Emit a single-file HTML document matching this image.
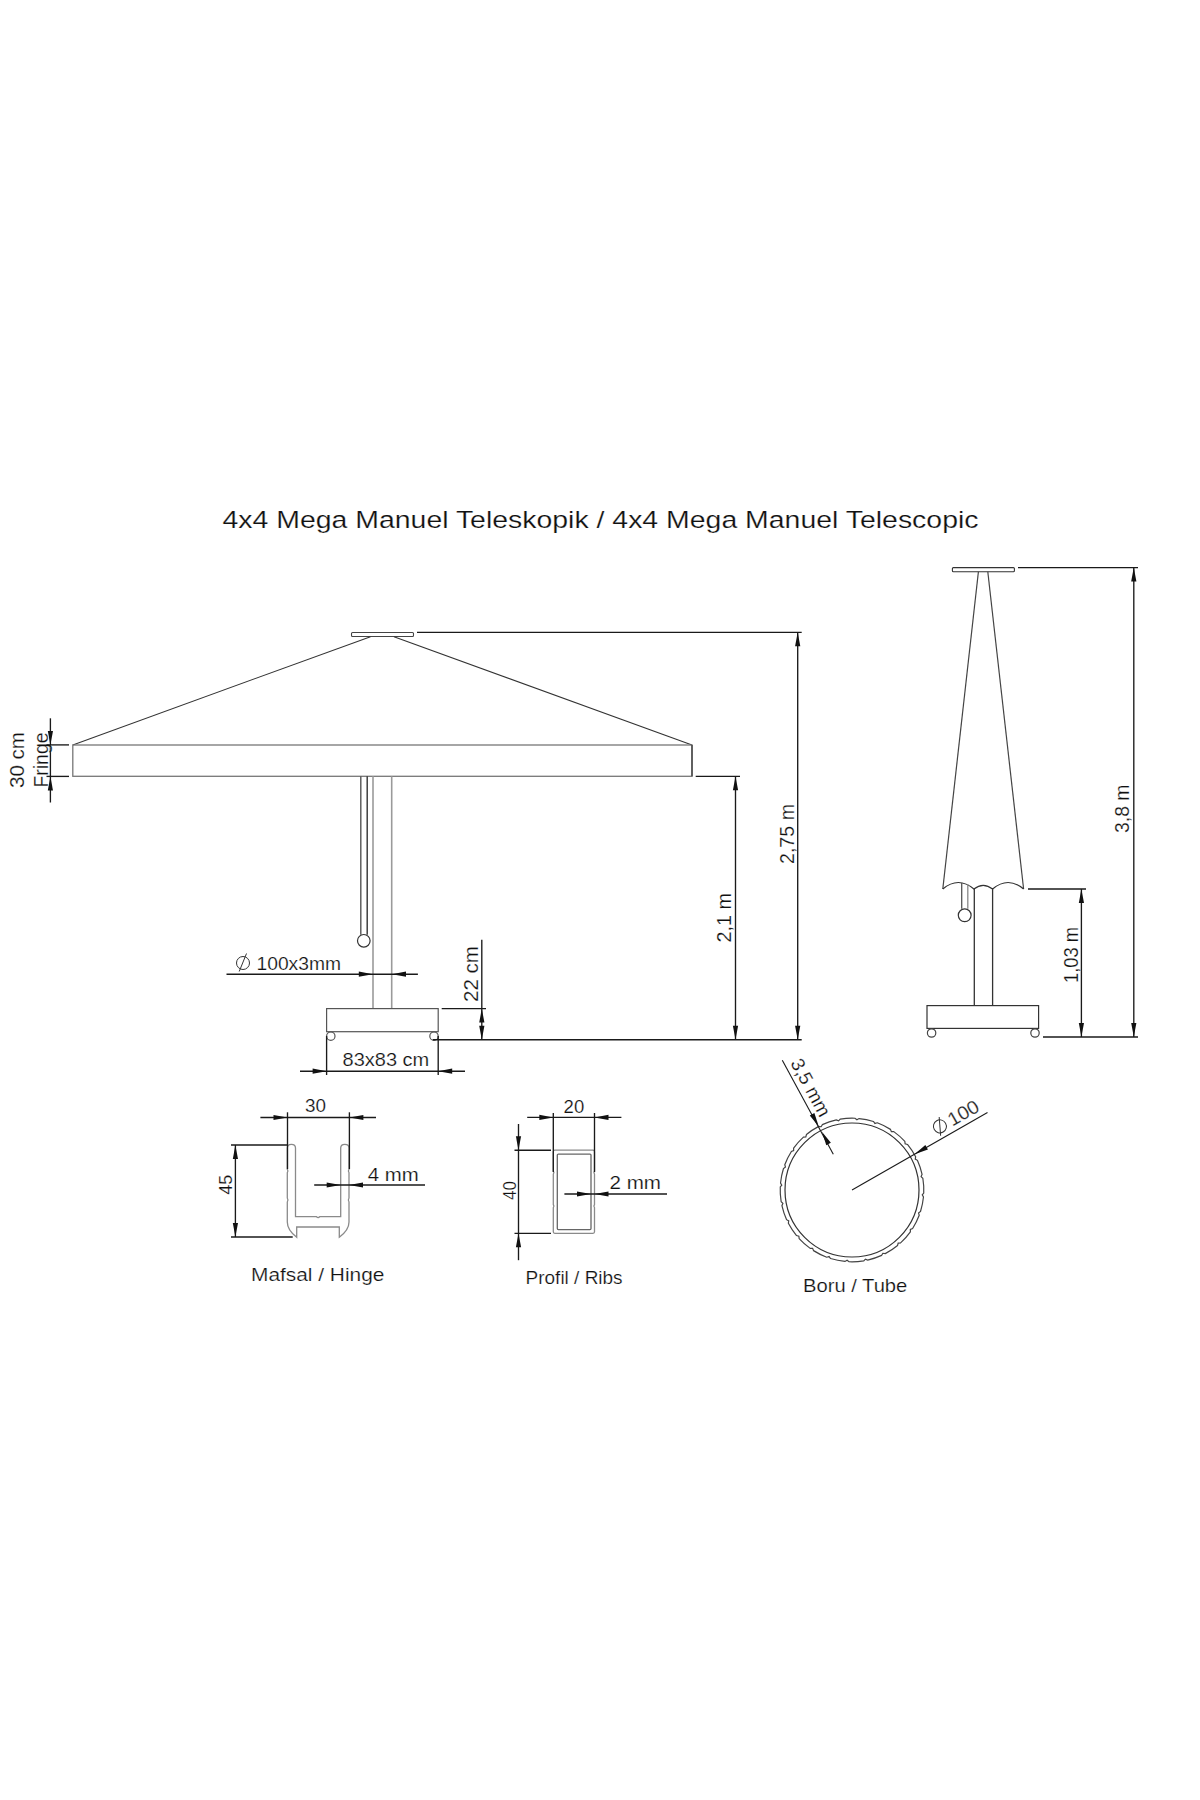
<!DOCTYPE html>
<html><head><meta charset="utf-8"><style>
html,body{margin:0;padding:0;background:#fff;width:1200px;height:1800px;overflow:hidden}
svg{display:block}
text{font-family:"Liberation Sans",sans-serif;stroke:#fff;stroke-width:0.2px}
</style></head><body>
<svg width="1200" height="1800" viewBox="0 0 1200 1800">
<rect width="1200" height="1800" fill="#fff"/>
<text x="222.5" y="527.8" font-size="24.5" text-anchor="start" textLength="756" lengthAdjust="spacingAndGlyphs" fill="#111">4x4 Mega Manuel Teleskopik / 4x4 Mega Manuel Telescopic</text>
<rect x="351.5" y="632.5" width="62.00" height="4.00" rx="1" fill="none" stroke="#444" stroke-width="1.1"/>
<line x1="370.5" y1="636.7" x2="72.8" y2="744.9" stroke="#333" stroke-width="1.05"/>
<line x1="394" y1="636.7" x2="692" y2="745" stroke="#333" stroke-width="1.05"/>
<rect x="72.8" y="745" width="619.20" height="31.30" rx="0" fill="none" stroke="#777" stroke-width="1.3"/>
<line x1="692" y1="745" x2="692" y2="776.3" stroke="#444" stroke-width="1.4"/>
<line x1="373" y1="776.3" x2="373" y2="1008.6" stroke="#9a9a9a" stroke-width="1.6"/>
<line x1="391.7" y1="776.3" x2="391.7" y2="1008.6" stroke="#9a9a9a" stroke-width="1.6"/>
<line x1="360.8" y1="776.3" x2="360.8" y2="934.7" stroke="#555" stroke-width="1.4"/>
<line x1="367.2" y1="776.3" x2="367.2" y2="934.7" stroke="#333" stroke-width="1.4"/>
<circle cx="363.8" cy="940.8" r="6.3" fill="none" stroke="#333" stroke-width="1.2"/>
<rect x="326.6" y="1008.6" width="111.60" height="23.10" rx="0" fill="none" stroke="#555" stroke-width="1.2"/>
<circle cx="330.8" cy="1036.2" r="4.2" fill="none" stroke="#555" stroke-width="1.2"/>
<circle cx="434" cy="1036.2" r="4.2" fill="none" stroke="#555" stroke-width="1.2"/>
<line x1="50.4" y1="718.3" x2="50.4" y2="802.5" stroke="#1a1a1a" stroke-width="1.35"/>
<line x1="46.5" y1="744.9" x2="69" y2="744.9" stroke="#1a1a1a" stroke-width="1.35"/>
<line x1="46.5" y1="776.4" x2="69" y2="776.4" stroke="#1a1a1a" stroke-width="1.35"/>
<polygon points="50.40,744.90 47.80,730.90 53.00,730.90" fill="#111"/>
<polygon points="50.40,776.40 53.00,790.40 47.80,790.40" fill="#111"/>
<text x="24" y="760" font-size="19.5" text-anchor="middle" textLength="56" lengthAdjust="spacingAndGlyphs" transform="rotate(-90 24 760)" fill="#111">30 cm</text>
<text x="48" y="760" font-size="19.5" text-anchor="middle" textLength="55" lengthAdjust="spacingAndGlyphs" transform="rotate(-90 48 760)" fill="#111">Fringe</text>
<line x1="417" y1="632.3" x2="801.7" y2="632.3" stroke="#1a1a1a" stroke-width="1.35"/>
<line x1="797.7" y1="632.3" x2="797.7" y2="1039.7" stroke="#1a1a1a" stroke-width="1.35"/>
<polygon points="797.70,632.30 800.30,646.30 795.10,646.30" fill="#111"/>
<polygon points="797.70,1039.70 795.10,1025.70 800.30,1025.70" fill="#111"/>
<text x="793.5" y="834" font-size="19.5" text-anchor="middle" textLength="60" lengthAdjust="spacingAndGlyphs" transform="rotate(-90 793.5 834)" fill="#111">2,75 m</text>
<line x1="695.7" y1="776.3" x2="740" y2="776.3" stroke="#1a1a1a" stroke-width="1.35"/>
<line x1="735.5" y1="776.3" x2="735.5" y2="1039.7" stroke="#1a1a1a" stroke-width="1.35"/>
<polygon points="735.50,776.30 738.10,790.30 732.90,790.30" fill="#111"/>
<polygon points="735.50,1039.70 732.90,1025.70 738.10,1025.70" fill="#111"/>
<text x="731.5" y="917.7" font-size="19.5" text-anchor="middle" textLength="49.5" lengthAdjust="spacingAndGlyphs" transform="rotate(-90 731.5 917.7)" fill="#111">2,1 m</text>
<line x1="432.8" y1="1039.7" x2="801.7" y2="1039.7" stroke="#1a1a1a" stroke-width="1.35"/>
<line x1="481.8" y1="939.8" x2="481.8" y2="1039.7" stroke="#1a1a1a" stroke-width="1.35"/>
<line x1="441.7" y1="1008.6" x2="486" y2="1008.6" stroke="#1a1a1a" stroke-width="1.35"/>
<polygon points="481.80,1008.60 484.40,1022.60 479.20,1022.60" fill="#111"/>
<polygon points="481.80,1039.70 479.20,1025.70 484.40,1025.70" fill="#111"/>
<text x="478" y="974" font-size="19.5" text-anchor="middle" textLength="56" lengthAdjust="spacingAndGlyphs" transform="rotate(-90 478 974)" fill="#111">22 cm</text>
<line x1="226.5" y1="974.2" x2="417.9" y2="974.2" stroke="#1a1a1a" stroke-width="1.35"/>
<polygon points="372.80,974.20 358.80,976.80 358.80,971.60" fill="#111"/>
<polygon points="392.00,974.20 406.00,971.60 406.00,976.80" fill="#111"/>
<circle cx="243" cy="963" r="6.5" fill="none" stroke="#333" stroke-width="1.0"/>
<line x1="239.2" y1="971.5" x2="246.5" y2="953.5" stroke="#333" stroke-width="1.0"/>
<text x="256.5" y="969.5" font-size="19" text-anchor="start" textLength="84.5" lengthAdjust="spacingAndGlyphs" fill="#111">100x3mm</text>
<line x1="300" y1="1071.2" x2="465" y2="1071.2" stroke="#1a1a1a" stroke-width="1.35"/>
<line x1="326.6" y1="1036" x2="326.6" y2="1075" stroke="#1a1a1a" stroke-width="1.35"/>
<line x1="438.2" y1="1036" x2="438.2" y2="1075" stroke="#1a1a1a" stroke-width="1.35"/>
<polygon points="326.60,1071.20 312.60,1073.80 312.60,1068.60" fill="#111"/>
<polygon points="438.20,1071.20 452.20,1068.60 452.20,1073.80" fill="#111"/>
<text x="342.5" y="1066" font-size="19" text-anchor="start" textLength="86.8" lengthAdjust="spacingAndGlyphs" fill="#111">83x83 cm</text>
<rect x="952.4" y="567.6" width="62.00" height="4.10" rx="1" fill="none" stroke="#333" stroke-width="1.1"/>
<line x1="978.4" y1="571.7" x2="942.8" y2="889" stroke="#444" stroke-width="1.2"/>
<line x1="987.8" y1="571.7" x2="1023.6" y2="889" stroke="#444" stroke-width="1.2"/>
<path d="M942.8,889 Q958.3,876 973.9,889 Q983.2,881.6 992.6,889 Q1008.1,876 1023.6,889" fill="none" stroke="#333" stroke-width="1.2"/>
<line x1="974.3" y1="889" x2="974.3" y2="1005.6" stroke="#333" stroke-width="1.3"/>
<line x1="992.6" y1="889" x2="992.6" y2="1005.6" stroke="#333" stroke-width="1.3"/>
<line x1="961.7" y1="883" x2="961.7" y2="908.8" stroke="#555" stroke-width="1.3"/>
<line x1="967.8" y1="884" x2="967.8" y2="908.8" stroke="#888" stroke-width="1.3"/>
<circle cx="964.7" cy="915.3" r="6.4" fill="none" stroke="#333" stroke-width="1.2"/>
<rect x="927" y="1005.6" width="111.60" height="22.80" rx="0" fill="none" stroke="#333" stroke-width="1.2"/>
<circle cx="931.6" cy="1033" r="4.2" fill="none" stroke="#444" stroke-width="1.2"/>
<circle cx="1035" cy="1033" r="4.2" fill="none" stroke="#444" stroke-width="1.2"/>
<line x1="1018" y1="567.6" x2="1138" y2="567.6" stroke="#1a1a1a" stroke-width="1.35"/>
<line x1="1133.8" y1="567.6" x2="1133.8" y2="1037" stroke="#1a1a1a" stroke-width="1.35"/>
<polygon points="1133.80,567.60 1136.40,581.60 1131.20,581.60" fill="#111"/>
<polygon points="1133.80,1037.00 1131.20,1023.00 1136.40,1023.00" fill="#111"/>
<text x="1129" y="808.75" font-size="19.5" text-anchor="middle" textLength="48.5" lengthAdjust="spacingAndGlyphs" transform="rotate(-90 1129 808.75)" fill="#111">3,8 m</text>
<line x1="1028" y1="889" x2="1086" y2="889" stroke="#1a1a1a" stroke-width="1.35"/>
<line x1="1081.4" y1="889" x2="1081.4" y2="1037" stroke="#1a1a1a" stroke-width="1.35"/>
<polygon points="1081.40,889.00 1084.00,903.00 1078.80,903.00" fill="#111"/>
<polygon points="1081.40,1037.00 1078.80,1023.00 1084.00,1023.00" fill="#111"/>
<text x="1077.5" y="955" font-size="19.5" text-anchor="middle" textLength="56" lengthAdjust="spacingAndGlyphs" transform="rotate(-90 1077.5 955)" fill="#111">1,03 m</text>
<line x1="1043" y1="1037" x2="1138" y2="1037" stroke="#1a1a1a" stroke-width="1.35"/>
<path d="M287.3,1222 L287.3,1202 Q288.6,1200 287.3,1198 L287.3,1172.7 Q288.6,1171 287.3,1169.3 L287.3,1148 Q287.3,1144.3 291.4,1144.3 Q295.5,1144.3 295.5,1148 L295.5,1216.7 L316.5,1216.7 Q318.1,1218.2 319.7,1216.7 L340.7,1216.7 L340.7,1148 Q340.7,1144.3 344.85,1144.3 Q349,1144.3 349,1148 L349,1169.3 Q347.7,1171 349,1172.7 L349,1198 Q347.7,1200 349,1202 L349,1222 Q349,1230 339.3,1237.3 L339.3,1227 L296.7,1227 L296.7,1237.3 Q287.3,1230 287.3,1222 Z" fill="none" stroke="#8a8a8a" stroke-width="1.3"/>
<line x1="260.4" y1="1117.5" x2="376" y2="1117.5" stroke="#1a1a1a" stroke-width="1.35"/>
<line x1="287.5" y1="1112.3" x2="287.5" y2="1169" stroke="#1a1a1a" stroke-width="1.35"/>
<line x1="349.4" y1="1112.3" x2="349.4" y2="1169" stroke="#1a1a1a" stroke-width="1.35"/>
<polygon points="287.50,1117.50 273.50,1120.10 273.50,1114.90" fill="#111"/>
<polygon points="349.40,1117.50 363.40,1114.90 363.40,1120.10" fill="#111"/>
<text x="315.5" y="1112.3" font-size="19" text-anchor="middle" textLength="21" lengthAdjust="spacingAndGlyphs" fill="#111">30</text>
<line x1="235.4" y1="1145" x2="235.4" y2="1237" stroke="#1a1a1a" stroke-width="1.35"/>
<line x1="231" y1="1145" x2="287" y2="1145" stroke="#1a1a1a" stroke-width="1.35"/>
<line x1="231" y1="1237" x2="292.7" y2="1237" stroke="#1a1a1a" stroke-width="1.35"/>
<polygon points="235.40,1145.00 238.00,1159.00 232.80,1159.00" fill="#111"/>
<polygon points="235.40,1237.00 232.80,1223.00 238.00,1223.00" fill="#111"/>
<text x="232" y="1184.7" font-size="19" text-anchor="middle" textLength="20" lengthAdjust="spacingAndGlyphs" transform="rotate(-90 232 1184.7)" fill="#111">45</text>
<line x1="314.2" y1="1185" x2="425" y2="1185" stroke="#1a1a1a" stroke-width="1.35"/>
<polygon points="340.70,1185.00 326.70,1187.60 326.70,1182.40" fill="#111"/>
<polygon points="349.00,1185.00 363.00,1182.40 363.00,1187.60" fill="#111"/>
<text x="367.7" y="1180.6" font-size="19" text-anchor="start" textLength="51" lengthAdjust="spacingAndGlyphs" fill="#111">4 mm</text>
<text x="251" y="1281" font-size="18.5" text-anchor="start" textLength="133.4" lengthAdjust="spacingAndGlyphs" fill="#111">Mafsal / Hinge</text>
<path d="M554.8,1150.2 L593,1150.2 Q594.5,1150.2 594.5,1151.7 L594.5,1171 Q593.3,1172.6 594.5,1174.2 L594.5,1204.5 Q593.3,1206.1 594.5,1207.7 L594.5,1231.8 Q594.5,1233.3 593,1233.3 L554.8,1233.3 Q553.3,1233.3 553.3,1231.8 L553.3,1207.7 Q554.5,1206.1 553.3,1204.5 L553.3,1174.2 Q554.5,1172.6 553.3,1171 L553.3,1151.7 Q553.3,1150.2 554.8,1150.2 Z" fill="none" stroke="#8a8a8a" stroke-width="1.3"/>
<rect x="557.3" y="1154.1" width="33.70" height="75.50" rx="1" fill="none" stroke="#666" stroke-width="1.3"/>
<line x1="527.2" y1="1117.4" x2="621.4" y2="1117.4" stroke="#1a1a1a" stroke-width="1.35"/>
<line x1="553.3" y1="1113" x2="553.3" y2="1172" stroke="#1a1a1a" stroke-width="1.35"/>
<line x1="594.5" y1="1113" x2="594.5" y2="1172" stroke="#1a1a1a" stroke-width="1.35"/>
<polygon points="553.30,1117.40 539.30,1120.00 539.30,1114.80" fill="#111"/>
<polygon points="594.50,1117.40 608.50,1114.80 608.50,1120.00" fill="#111"/>
<text x="573.9" y="1113" font-size="19" text-anchor="middle" textLength="20.6" lengthAdjust="spacingAndGlyphs" fill="#111">20</text>
<line x1="518.5" y1="1124" x2="518.5" y2="1260.2" stroke="#1a1a1a" stroke-width="1.35"/>
<line x1="514.5" y1="1150.2" x2="551" y2="1150.2" stroke="#1a1a1a" stroke-width="1.35"/>
<line x1="514.5" y1="1233.3" x2="551" y2="1233.3" stroke="#1a1a1a" stroke-width="1.35"/>
<polygon points="518.50,1150.20 515.90,1136.20 521.10,1136.20" fill="#111"/>
<polygon points="518.50,1233.30 521.10,1247.30 515.90,1247.30" fill="#111"/>
<text x="515.5" y="1190.5" font-size="19" text-anchor="middle" textLength="19" lengthAdjust="spacingAndGlyphs" transform="rotate(-90 515.5 1190.5)" fill="#111">40</text>
<line x1="564.4" y1="1194" x2="667" y2="1194" stroke="#1a1a1a" stroke-width="1.35"/>
<polygon points="591.00,1194.00 577.00,1196.60 577.00,1191.40" fill="#111"/>
<polygon points="594.50,1194.00 608.50,1191.40 608.50,1196.60" fill="#111"/>
<text x="609.5" y="1189.4" font-size="19" text-anchor="start" textLength="51.5" lengthAdjust="spacingAndGlyphs" fill="#111">2 mm</text>
<text x="525.6" y="1284.3" font-size="18.5" text-anchor="start" textLength="97" lengthAdjust="spacingAndGlyphs" fill="#111">Profil / Ribs</text>
<path d="M923.46,1197.01 A71.8,71.8 0 0 1 920.51,1211.47 L918.56,1212.92 L919.21,1215.26 A71.8,71.8 0 0 1 912.62,1228.47 L910.36,1229.37 L910.38,1231.80 A71.8,71.8 0 0 1 900.60,1242.85 L898.19,1243.13 L897.57,1245.48 A71.8,71.8 0 0 1 885.26,1253.63 L882.86,1253.28 L881.66,1255.39 A71.8,71.8 0 0 1 867.66,1260.07 L865.43,1259.11 L863.73,1260.84 A71.8,71.8 0 0 1 848.99,1261.74 L847.09,1260.23 L844.99,1261.46 A71.8,71.8 0 0 1 830.53,1258.51 L829.08,1256.56 L826.74,1257.21 A71.8,71.8 0 0 1 813.53,1250.62 L812.63,1248.36 L810.20,1248.38 A71.8,71.8 0 0 1 799.15,1238.60 L798.87,1236.19 L796.52,1235.57 A71.8,71.8 0 0 1 788.37,1223.26 L788.72,1220.86 L786.61,1219.66 A71.8,71.8 0 0 1 781.93,1205.66 L782.89,1203.43 L781.16,1201.73 A71.8,71.8 0 0 1 780.26,1186.99 L781.77,1185.09 L780.54,1182.99 A71.8,71.8 0 0 1 783.49,1168.53 L785.44,1167.08 L784.79,1164.74 A71.8,71.8 0 0 1 791.38,1151.53 L793.64,1150.63 L793.62,1148.20 A71.8,71.8 0 0 1 803.40,1137.15 L805.81,1136.87 L806.43,1134.52 A71.8,71.8 0 0 1 818.74,1126.37 L821.14,1126.72 L822.34,1124.61 A71.8,71.8 0 0 1 836.34,1119.93 L838.57,1120.89 L840.27,1119.16 A71.8,71.8 0 0 1 855.01,1118.26 L856.91,1119.77 L859.01,1118.54 A71.8,71.8 0 0 1 873.47,1121.49 L874.92,1123.44 L877.26,1122.79 A71.8,71.8 0 0 1 890.47,1129.38 L891.37,1131.64 L893.80,1131.62 A71.8,71.8 0 0 1 904.85,1141.40 L905.13,1143.81 L907.48,1144.43 A71.8,71.8 0 0 1 915.63,1156.74 L915.28,1159.14 L917.39,1160.34 A71.8,71.8 0 0 1 922.07,1174.34 L921.11,1176.57 L922.84,1178.27 A71.8,71.8 0 0 1 923.74,1193.01 L922.23,1194.91 L923.46,1197.01 Z" fill="none" stroke="#444" stroke-width="1.2"/>
<circle cx="852" cy="1190" r="67" fill="none" stroke="#333" stroke-width="1.2"/>
<line x1="852" y1="1190" x2="987.5" y2="1112.5" stroke="#1a1a1a" stroke-width="1.1"/>
<polygon points="914.50,1154.25 925.36,1145.05 927.94,1149.56" fill="#111"/>
<line x1="782.3" y1="1060.2" x2="833.3" y2="1154.2" stroke="#1a1a1a" stroke-width="1.1"/>
<polygon points="818.75,1126.50 809.79,1115.43 814.36,1112.95" fill="#111"/>
<polygon points="821.90,1131.70 830.86,1142.77 826.29,1145.25" fill="#111"/>
<g transform="translate(937.5,1135.25) rotate(-29.77)"><circle cx="6.5" cy="-6.5" r="6.5" fill="none" stroke="#333" stroke-width="1"/><line x1="2.5" y1="2" x2="10.5" y2="-15" stroke="#333" stroke-width="1"/><text x="17" y="0" font-size="19" textLength="33" lengthAdjust="spacingAndGlyphs" fill="#222">100</text></g>
<text x="790" y="1063" font-size="19" text-anchor="start" textLength="63" lengthAdjust="spacingAndGlyphs" transform="rotate(61.517814252959575 790 1063)" fill="#111">3,5 mm</text>
<text x="803" y="1292.3" font-size="18.5" text-anchor="start" textLength="104.3" lengthAdjust="spacingAndGlyphs" fill="#111">Boru / Tube</text>
</svg></body></html>
